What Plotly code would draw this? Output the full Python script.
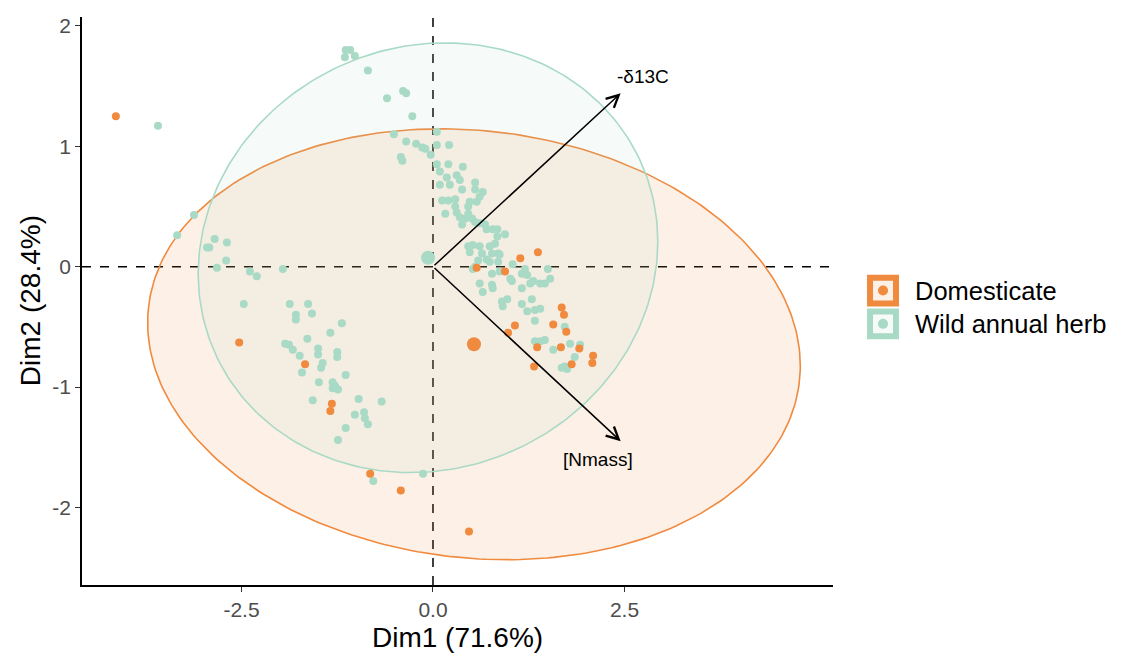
import numpy as np
import plotly.graph_objects as go

# ---------------- data ----------------
wild_dim1 = [-1.14, -1.08, -1.15, -1.02, -0.85, -0.60, -0.39, -0.35, -0.27, -3.59,
             -0.51, -0.35, -0.22, -0.14, -0.10, -0.03, 0.05, 0.05, 0.21, -0.42,
             -0.40, 0.05, 0.20, 0.39, 0.09, 0.18, 0.31, 0.35, 0.55, 0.09,
             0.22, 0.38, 0.55, 0.65, 0.61, 0.12, 0.20, 0.29, 0.48, 0.57,
             0.29, 0.46, 0.16, 0.31, 0.35, 0.46, 0.51, 0.55, 0.61, 0.68,
             0.70, 0.78, 0.84, 0.94, 0.84, 0.42, 0.38, 0.46, 0.52, 0.61,
             0.74, 0.81, 0.48, 0.64, 0.77, 0.85, 0.70, 0.59, 0.74, 0.85,
             0.87, 0.55, 0.52, 0.77, 0.87, 1.04, 1.01, 1.03, 1.16, 1.20,
             1.23, 1.31, 1.27, 1.16, 1.40, 1.46, 1.53, 1.50, 0.61, 0.65,
             0.77, 0.78, 0.90, 0.97, 0.91, 1.16, 1.29, 1.23, 1.33, 1.40,
             1.33, 1.72, 1.33, 1.40, 1.46, 1.57, 1.79, 1.92, 1.85, 1.72,
             1.75, 1.68, -3.12, -3.34, -2.85, -2.69, -2.95, -2.92, -2.70, -2.82,
             -2.39, -2.30, -1.96, -2.47, -1.87, -1.63, -1.58, -1.79, -1.79, -1.19,
             -1.34, -1.64, -1.93, -1.88, -1.83, -1.74, -1.50, -1.50, -1.25, -1.25,
             -1.44, -1.46, -1.14, -1.71, -1.49, -1.31, -1.28, -1.24, -1.31, -1.57,
             -0.97, -0.67, -0.90, -1.02, -0.89, -0.85, -1.14, -1.24, -0.78, -0.13]
wild_dim2 = [1.80, 1.80, 1.74, 1.75, 1.63, 1.40, 1.46, 1.44, 1.25, 1.17,
             1.10, 1.04, 1.02, 0.99, 0.98, 0.93, 1.12, 1.01, 1.01, 0.91,
             0.88, 0.85, 0.85, 0.83, 0.79, 0.74, 0.76, 0.72, 0.70, 0.68,
             0.68, 0.64, 0.64, 0.62, 0.58, 0.55, 0.55, 0.56, 0.54, 0.54,
             0.50, 0.50, 0.44, 0.45, 0.41, 0.44, 0.40, 0.37, 0.36, 0.35,
             0.31, 0.31, 0.31, 0.27, 0.25, 0.40, 0.35, 0.17, 0.18, 0.17,
             0.17, 0.19, 0.12, 0.11, 0.11, 0.11, 0.06, 0.05, 0.04, 0.04,
             0.10, 0.00, -0.02, -0.06, -0.04, 0.02, -0.10, -0.12, -0.06, -0.02,
             -0.07, -0.12, -0.14, -0.18, -0.14, -0.14, -0.10, -0.02, -0.14, -0.21,
             -0.15, -0.18, -0.29, -0.27, -0.33, -0.31, -0.27, -0.37, -0.36, -0.35,
             -0.45, -0.50, -0.62, -0.62, -0.61, -0.69, -0.64, -0.65, -0.75, -0.83,
             -0.85, -0.84, 0.43, 0.26, 0.23, 0.20, 0.16, 0.16, 0.05, -0.01,
             -0.04, -0.08, -0.02, -0.31, -0.31, -0.31, -0.39, -0.40, -0.44, -0.47,
             -0.55, -0.60, -0.64, -0.65, -0.69, -0.74, -0.68, -0.73, -0.71, -0.75,
             -0.80, -0.84, -0.90, -0.88, -0.96, -0.96, -0.99, -1.02, -1.01, -1.11,
             -1.10, -1.12, -1.21, -1.23, -1.26, -1.31, -1.34, -1.44, -1.78, -1.72]

dom_dim1 = [-4.14, -2.53, -1.67, -1.32, -1.34, -0.82, -0.42, 0.47, 1.37, 1.14,
            0.57, 0.94, 1.68, 1.71, 1.57, 1.74, 1.07, 0.98, 1.36, 1.67,
            1.91, 2.09, 2.08, 1.81, 1.32]
dom_dim2 = [1.25, -0.63, -0.81, -1.14, -1.20, -1.72, -1.86, -2.20, 0.12, 0.07,
            -0.01, -0.04, -0.34, -0.40, -0.48, -0.54, -0.49, -0.55, -0.67, -0.67,
            -0.68, -0.74, -0.80, -0.81, -0.83]

groups = ["Domesticate", "Wild annual herb"]
group_center_dim1 = [0.535, -0.065]
group_center_dim2 = [-0.645, 0.074]
# concentration ellipses: half-extent along Dim1, half-extent along Dim2, correlation
ellipse_rx = [4.26, 3.00]
ellipse_ry = [1.79, 1.785]
ellipse_rho = [-0.10, 0.075]

var_names = ["-\u03b413C", "[Nmass]"]
var_dim1 = [2.45, 2.45]
var_dim2 = [1.44, -1.45]
var_label_dim1 = [2.74, 2.15]
var_label_dim2 = [1.58, -1.60]

x_tick_vals = [-2.5, 0.0, 2.5]
x_tick_text = ["-2.5", "0.0", "2.5"]
y_tick_vals = [-2, -1, 0, 1, 2]
y_tick_text = ["-2", "-1", "0", "1", "2"]
x_title = "Dim1 (71.6%)"
y_title = "Dim2 (28.4%)"

# ---------------- styling ----------------
colors = ["#F08A3F", "#A9DAC6"]
fills = ["rgba(240,138,63,0.13)", "rgba(169,218,198,0.10)"]
FONT = "Liberation Sans, Arial, sans-serif"

fig = go.Figure()

# ellipses
t = np.linspace(0, 2 * np.pi, 300)
for i in range(2):
    ex = group_center_dim1[i] + ellipse_rx[i] * np.cos(t)
    ey = group_center_dim2[i] + ellipse_ry[i] * (ellipse_rho[i] * np.cos(t)
                                                 + np.sqrt(1 - ellipse_rho[i] ** 2) * np.sin(t))
    fig.add_trace(go.Scatter(x=ex, y=ey, mode="lines", fill="toself",
                             fillcolor=fills[i], line=dict(color=colors[i], width=1.6),
                             hoverinfo="skip", showlegend=False))

# individuals
fig.add_trace(go.Scatter(x=wild_dim1, y=wild_dim2, mode="markers",
                         marker=dict(color=colors[1], size=8, line=dict(width=0)),
                         name=groups[1], showlegend=False))
fig.add_trace(go.Scatter(x=dom_dim1, y=dom_dim2, mode="markers",
                         marker=dict(color=colors[0], size=8, line=dict(width=0)),
                         name=groups[0], showlegend=False))
# group means
fig.add_trace(go.Scatter(x=group_center_dim1, y=group_center_dim2, mode="markers",
                         marker=dict(color=colors, size=14, line=dict(width=0)),
                         showlegend=False))

annotations = []
# variable arrows
for i in range(2):
    annotations.append(dict(x=var_dim1[i], y=var_dim2[i], ax=0, ay=0,
                            xref="x", yref="y", axref="x", ayref="y",
                            showarrow=True, arrowhead=5, arrowsize=1.6, arrowwidth=1.5,
                            arrowcolor="black", text=""))
    annotations.append(dict(x=var_label_dim1[i], y=var_label_dim2[i], xref="x", yref="y",
                            text=var_names[i], showarrow=False,
                            font=dict(family=FONT, size=19, color="black")))

# axis titles
annotations.append(dict(x=0.5, y=-0.093, xref="paper", yref="paper", text=x_title,
                        showarrow=False, yanchor="middle",
                        font=dict(family=FONT, size=28, color="black")))
annotations.append(dict(x=-0.069, y=0.5, xref="paper", yref="paper", text=y_title,
                        showarrow=False, textangle=-90, xanchor="center",
                        font=dict(family=FONT, size=28, color="black")))

# manual legend (ggplot style keys)
shapes = []
key_x0, key_x1 = 1.0493, 1.0839
key_rows = [(0.5411, 0.4957), (0.4816, 0.4379)]
for i in range(2):
    y0, y1 = key_rows[i]
    shapes.append(dict(type="rect", xref="paper", yref="paper", x0=key_x0, x1=key_x1,
                       y0=y1, y1=y0, line=dict(color=colors[i], width=6),
                       fillcolor="white"))
    shapes.append(dict(type="rect", xref="paper", yref="paper", x0=key_x0, x1=key_x1,
                       y0=y1, y1=y0, line=dict(width=0), fillcolor=fills[i]))
    cxp = (key_x0 + key_x1) / 2
    cyp = (y0 + y1) / 2
    shapes.append(dict(type="circle", xref="paper", yref="paper",
                       x0=cxp - 0.0067, x1=cxp + 0.0067, y0=cyp - 0.0088, y1=cyp + 0.0088,
                       line=dict(width=0), fillcolor=colors[i]))
    annotations.append(dict(x=1.1065, y=cyp, xref="paper", yref="paper", text=groups[i],
                            showarrow=False, xanchor="left", yanchor="middle",
                            font=dict(family=FONT, size=25.5, color="black")))

# zero reference lines
shapes.append(dict(type="line", xref="x", yref="paper", x0=0, x1=0, y0=0, y1=1,
                   line=dict(color="black", width=1.5, dash="dash"), layer="below"))
shapes.append(dict(type="line", xref="paper", yref="y", x0=0, x1=1, y0=0, y1=0,
                   line=dict(color="black", width=1.5, dash="dash"), layer="below"))

fig.update_layout(
    width=1124, height=661,
    margin=dict(l=74, r=299, t=6, b=84),
    paper_bgcolor="white", plot_bgcolor="white",
    font=dict(family=FONT),
    showlegend=False,
    shapes=shapes,
    annotations=annotations,
    xaxis=dict(range=[-4.582, 5.222], tickvals=x_tick_vals, ticktext=x_tick_text,
               showgrid=False, zeroline=False, showline=True, linecolor="black",
               linewidth=1.5, ticks="outside", ticklen=5, tickcolor="#333333",
               tickfont=dict(family=FONT, size=21, color="#4D4D4D")),
    yaxis=dict(range=[-2.645, 2.074], tickvals=y_tick_vals, ticktext=y_tick_text,
               showgrid=False, zeroline=False, showline=True, linecolor="black",
               linewidth=1.5, ticks="outside", ticklen=5, tickcolor="#333333",
               tickfont=dict(family=FONT, size=21, color="#4D4D4D")),
)

fig.write_html("out.html")
